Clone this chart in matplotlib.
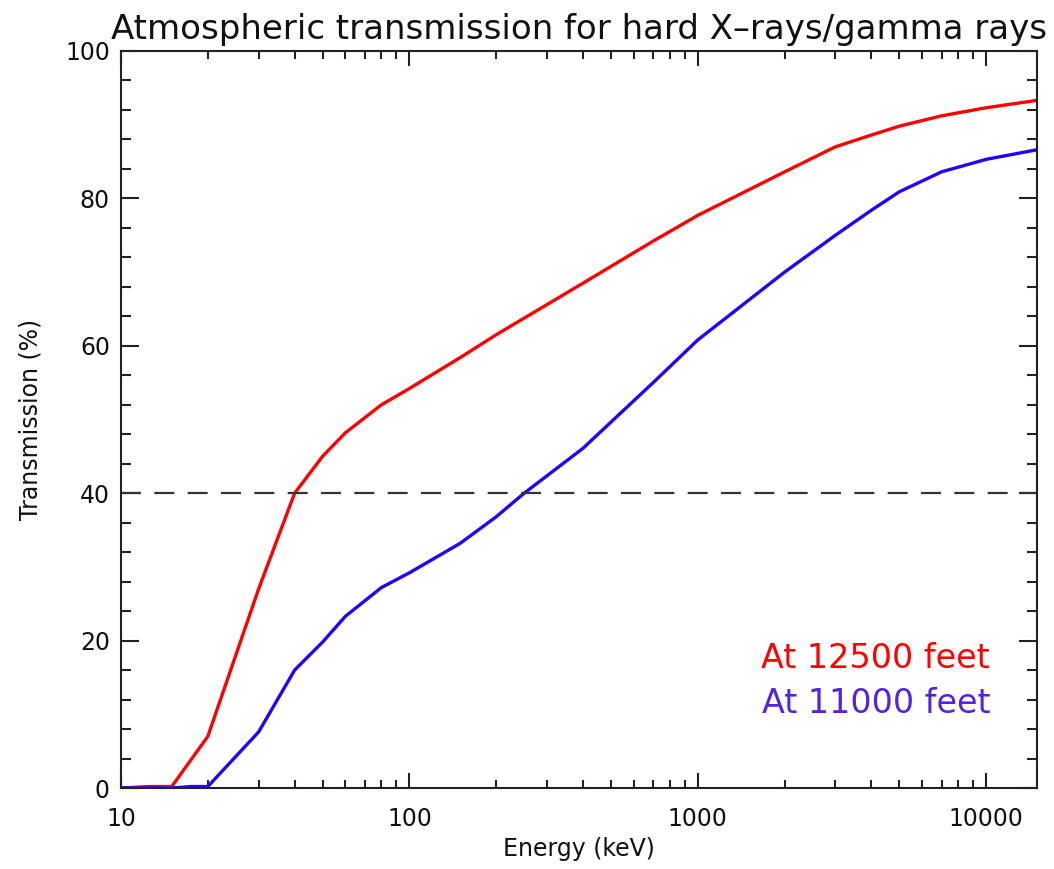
import matplotlib
matplotlib.use("Agg")
import matplotlib.pyplot as plt
from matplotlib.ticker import LogLocator, FixedLocator, NullFormatter, FixedFormatter

# Data
energy_12500 = [10, 12.5, 15, 20, 30, 40, 50, 60, 80, 100, 150, 200, 400, 700, 1000,
                2000, 3000, 4000, 5000, 7000, 10000, 15000]
trans_12500 = [0, 0.2, 0.2, 7.0, 27.0, 40.0, 45.0, 48.2, 52.0, 54.2, 58.4, 61.5, 68.5,
               74.2, 77.7, 83.6, 87.0, 88.6, 89.8, 91.2, 92.3, 93.3]

energy_11000 = [10, 15, 17.5, 20, 30, 40, 50, 60, 80, 100, 150, 200, 250, 400, 700,
                1000, 2000, 3000, 4000, 5000, 7000, 10000, 15000]
trans_11000 = [0, 0, 0.2, 0.2, 7.6, 16.0, 19.8, 23.3, 27.2, 29.2, 33.2, 36.8, 40.0, 46.1,
               55.0, 60.8, 70.0, 75.0, 78.4, 80.9, 83.6, 85.3, 86.6]

threshold = 40
x_ticks = [10, 100, 1000, 10000]
x_tick_labels = ["10", "100", "1000", "10000"]
y_ticks = [0, 20, 40, 60, 80, 100]
legend_labels = ["At 12500 feet", "At 11000 feet"]

red = "#ff0000"
blue = "#2200ff"
blue_text = "#5522dd"
axis_col = "#222222"

plt.rcParams['font.family'] = ['DejaVu Sans']

fig = plt.figure(figsize=(10.54, 8.69), dpi=100)
ax = fig.add_axes([121/1054, 1 - 788/869, (1037-121)/1054, (788-51)/869])

ax.plot(energy_12500, trans_12500, color=red, lw=2.4, solid_joinstyle='round')
ax.plot(energy_11000, trans_11000, color=blue, lw=2.4, solid_joinstyle='round')
ax.axhline(threshold, color="#333333", lw=1.6, dashes=(9, 6))

ax.set_xscale('log')
ax.set_xlim(10, 15000)
ax.set_ylim(0, 100)

ax.xaxis.set_major_locator(FixedLocator(x_ticks))
ax.xaxis.set_major_formatter(FixedFormatter(x_tick_labels))
ax.xaxis.set_minor_locator(LogLocator(base=10, subs=range(2, 10)))
ax.xaxis.set_minor_formatter(NullFormatter())
ax.yaxis.set_major_locator(FixedLocator(y_ticks))
ax.yaxis.set_minor_locator(FixedLocator([v for v in range(0, 101, 4) if v % 20 != 0]))

for s in ax.spines.values():
    s.set_linewidth(1.5)
    s.set_color(axis_col)

ax.tick_params(axis='both', which='both', direction='in', top=True, right=True,
               color=axis_col, width=1.5, labelcolor="#111111", labelsize=17)
ax.tick_params(axis='x', which='major', length=10.5, pad=14)
ax.tick_params(axis='x', which='minor', length=5.5)
ax.tick_params(axis='y', which='major', length=13, pad=8)
ax.tick_params(axis='y', which='minor', length=7)

ax.set_title("Atmospheric transmission for hard X\u2013rays/gamma rays", fontsize=24.5,
             pad=9, color="#111111")
ax.set_xlabel("Energy (keV)", fontsize=17, color="#111111", labelpad=4)
ax.set_ylabel("Transmission (%)", fontsize=17, color="#111111", labelpad=16)

ax.text(0.9487, 0.176, legend_labels[0], transform=ax.transAxes, ha='right', va='center',
        fontsize=24, color=red)
ax.text(0.9487, 0.115, legend_labels[1], transform=ax.transAxes, ha='right', va='center',
        fontsize=24, color=blue_text)

fig.savefig("out.png", dpi=100)
